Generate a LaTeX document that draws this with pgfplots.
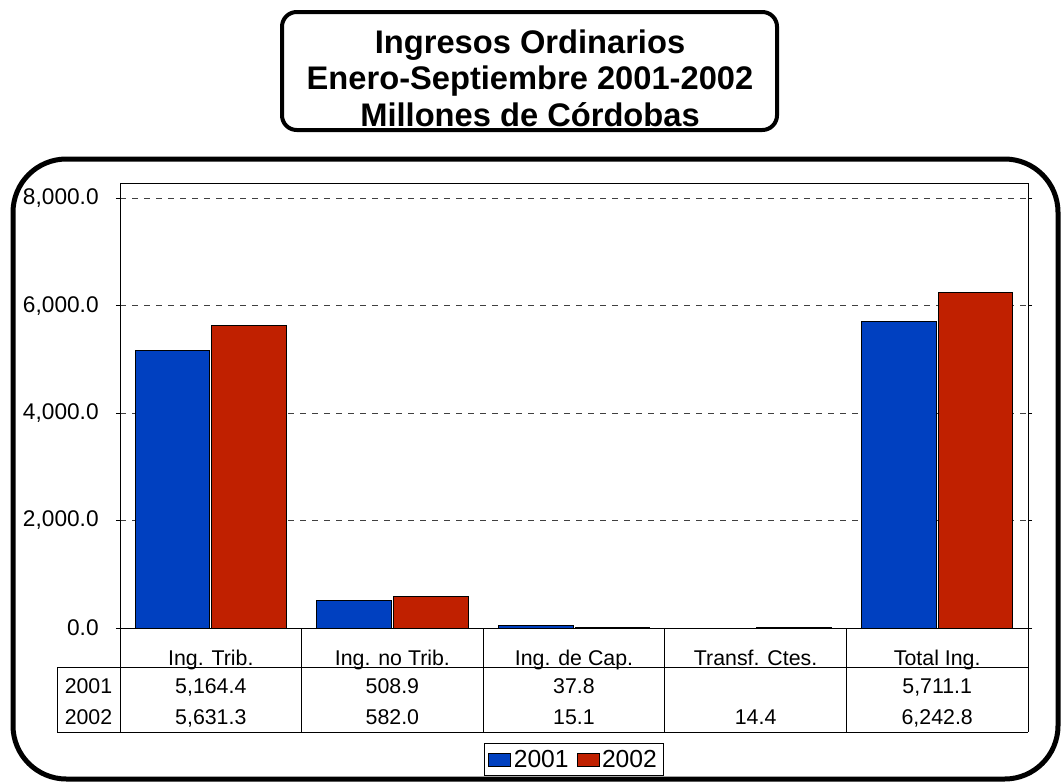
\documentclass[border=0pt]{standalone}
\usepackage{pgfplots}
\pgfplotsset{compat=1.18}
\usepackage{fontspec}
\setmainfont{Liberation Sans}
\definecolor{bblue}{RGB}{0,64,192}
\definecolor{bred}{RGB}{192,32,0}
\begin{document}
\begin{tikzpicture}
\begin{scope}[x=0.75pt,y=-0.75pt]
\useasboundingbox (0,0) rectangle (1063,782);
% outer frame
\draw[line width=3.75pt, rounded corners=40pt] (13,159) rectangle (1058,779);
% title box
\draw[line width=3pt, rounded corners=11pt] (282,12) rectangle (777,130);
\begin{scope}[every node/.style={font=\fontsize{24.5}{28}\selectfont\bfseries, anchor=base, inner sep=0pt}]
\node at (530,53) {Ingresos Ordinarios};
\node at (530,89.5) {Enero-Septiembre 2001-2002};
\node at (530,126) {Millones de Córdobas};
\end{scope}
% table
\foreach \xx in {120,301.6,483.2,664.8,846.4,1028} {\draw[line width=0.75pt] (\xx,628) -- (\xx,732);}
\draw[line width=0.75pt] (57,667) -- (1028,667);
\draw[line width=0.75pt] (57,732) -- (1028,732);
\draw[line width=0.75pt] (57,667) -- (57,732);
\begin{scope}[every node/.style={font=\fontsize{16}{19}\selectfont, anchor=base, inner sep=0pt}]
\node at (210.8,665) {Ing. Trib.};
\node at (392.4,665) {Ing. no Trib.};
\node at (574,665) {Ing. de Cap.};
\node at (755.6,665) {Transf. Ctes.};
\node at (937.2,665) {Total Ing.};
\node at (88.5,693) {2001};
\node at (88.5,724) {2002};
\node at (210.8,693) {5,164.4};
\node at (392.4,693) {508.9};
\node at (574,693) {37.8};
\node at (937.2,693) {5,711.1};
\node at (210.8,724) {5,631.3};
\node at (392.4,724) {582.0};
\node at (574,724) {15.1};
\node at (755.6,724) {14.4};
\node at (937.2,724) {6,242.8};
\end{scope}
\end{scope}
\begin{axis}[
  at={(90pt,-471pt)}, anchor=south west,
  scale only axis, width=681pt, height=333.75pt,
  xmin=-0.5, xmax=4.5, ymin=0, ymax=8280,
  xtick=\empty,
  ytick={0,2000,4000,6000,8000},
  ymajorgrids,
  grid style={black!75, line width=0.6pt, dash pattern=on 4.5pt off 4.5pt},
  ybar=1.5pt, bar width=56pt,
  axis line style={line width=0.75pt},
  tick align=outside, major tick length=3pt,
  tick style={line width=0.75pt, black},
  yticklabel style={/pgf/number format/fixed, /pgf/number format/fixed zerofill,
    /pgf/number format/precision=1, /pgf/number format/1000 sep={,},
    /pgf/number format/assume math mode=true,
    font=\fontsize{17}{20}\selectfont, xshift=-9.5pt},
  legend columns=2,
  legend style={at={(0.5,-0.2955)}, anchor=center, draw=black, line width=0.75pt,
    font=\fontsize{18.5}{21}\selectfont, inner xsep=3pt, inner ysep=2.5pt,
    /tikz/every even column/.append style={column sep=4pt}},
  legend image code/.code={\draw[#1,draw=black,line width=0.5pt] (0pt,-5pt) rectangle (16.5pt,5pt);},
]
\addplot[fill=bblue, draw=black, line width=0.75pt] coordinates {(0,5164.4) (1,508.9) (2,37.8) (4,5711.1)};
\addplot[fill=bred, draw=black, line width=0.75pt] coordinates {(0,5631.3) (1,582.0) (2,15.1) (3,14.4) (4,6242.8)};
\legend{2001,2002}
\end{axis}
\end{tikzpicture}
\end{document}
